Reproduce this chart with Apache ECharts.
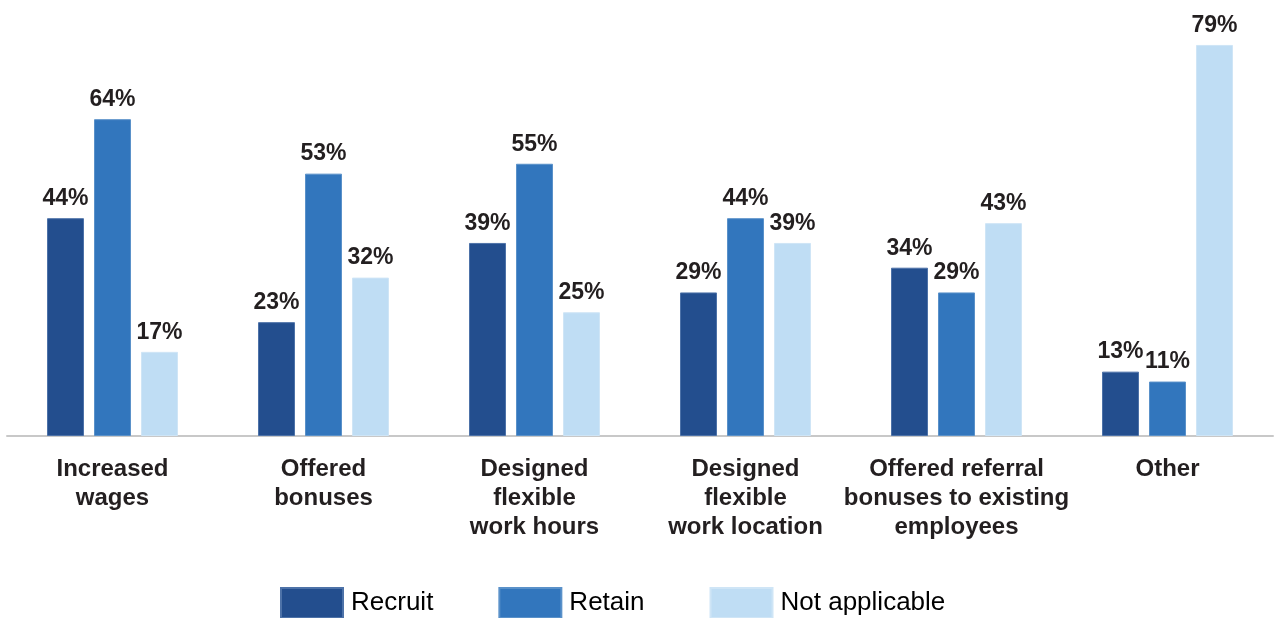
<!DOCTYPE html>
<html>
<head>
<meta charset="utf-8">
<script src="https://cdn.jsdelivr.net/npm/echarts@6/dist/echarts.min.js"></script>
<style>
  html, body { margin: 0; padding: 0; background: #fff; }
  #chart { width: 1275px; height: 618px; }
</style>
</head>
<body>
<div id="chart"></div>
<script>
// Workforce actions, share of respondents (%)
const categories = [
  'Increased\nwages',
  'Offered\nbonuses',
  'Designed\nflexible\nwork hours',
  'Designed\nflexible\nwork location',
  'Offered referral\nbonuses to existing\nemployees',
  'Other'
];
const recruit = [44, 23, 39, 29, 34, 13];
const retain = [64, 53, 55, 44, 29, 11];
const notApplicable = [17, 32, 25, 39, 43, 79];

const FONT = '"Liberation Sans", Arial, Helvetica, sans-serif';

function barSeries(name, data, color, border) {
  return {
    name: name,
    type: 'bar',
    data: data,
    barWidth: 37,
    barGap: '27%',
    itemStyle: { color: color, borderColor: border, borderWidth: 1 },
    label: {
      show: true,
      position: 'top',
      distance: 8,
      formatter: '{c}%',
      fontFamily: FONT,
      fontWeight: 'bold',
      fontSize: 23,
      color: '#231f20'
    }
  };
}

const chart = echarts.init(document.getElementById('chart'), null, { renderer: 'canvas' });
chart.setOption({
  animation: false,
  backgroundColor: '#ffffff',
  grid: { left: 7, right: 2, top: 40, bottom: 182, containLabel: false },
  legend: {
    top: 587,
    left: 280,
    padding: 0,
    itemWidth: 62,
    itemHeight: 30,
    itemGap: 65,
    icon: 'rect',
    textStyle: { fontFamily: FONT, fontSize: 26, color: '#000', padding: [0, 0, 0, 3] },
    data: ['Recruit', 'Retain', 'Not applicable']
  },
  xAxis: {
    type: 'category',
    data: categories,
    axisTick: { show: false },
    axisLine: { lineStyle: { color: '#c8c8c8', width: 2 } },
    axisLabel: {
      interval: 0,
      margin: 19,
      fontFamily: FONT,
      fontWeight: 'bold',
      fontSize: 24,
      lineHeight: 29,
      color: '#231f20'
    }
  },
  yAxis: {
    type: 'value',
    min: 0,
    max: 80,
    show: false,
    splitLine: { show: false }
  },
  series: [
    barSeries('Recruit', recruit, '#234e8e', '#4d72a8'),
    barSeries('Retain', retain, '#3276bd', '#5a91c9'),
    barSeries('Not applicable', notApplicable, '#bfddf4', '#cfe5f6')
  ]
});
</script>
</body>
</html>
